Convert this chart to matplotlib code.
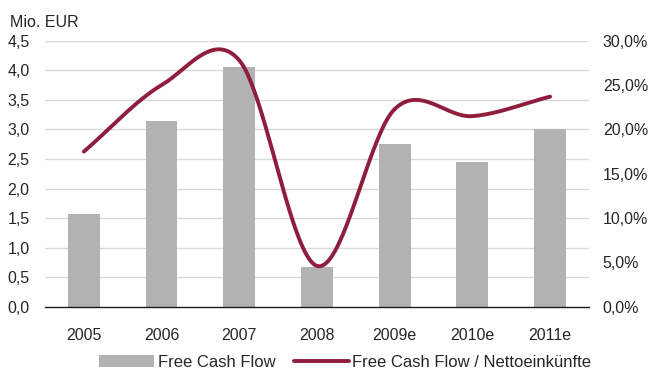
import numpy as np
import matplotlib
matplotlib.use("Agg")
import matplotlib.pyplot as plt

# Daten
jahre = ["2005", "2006", "2007", "2008", "2009e", "2010e", "2011e"]
fcf = [1.57, 3.14, 4.06, 0.68, 2.75, 2.45, 3.01]            # Mio. EUR
fcf_quote = [17.5, 25.0, 27.8, 4.6, 22.3, 21.5, 23.7]      # % der Nettoeinkuenfte

y_ticks = [0.0, 0.5, 1.0, 1.5, 2.0, 2.5, 3.0, 3.5, 4.0, 4.5]
y2_ticks = [0, 5, 10, 15, 20, 25, 30]

plt.rcParams['font.family'] = ['Liberation Sans', 'DejaVu Sans']
text_col = "#262626"
bar_col = "#b2b2b2"
line_col = "#8f1d3d"
fs = 11.5


def catmull_rom(x, y, n=40):
    # glatte Linie wie in Excel (Catmull-Rom-Spline durch die Punkte)
    x = np.asarray(x, float)
    y = np.asarray(y, float)
    px = np.concatenate([[2 * x[0] - x[1]], x, [2 * x[-1] - x[-2]]])
    py = np.concatenate([[2 * y[0] - y[1]], y, [2 * y[-1] - y[-2]]])
    xs, ys = [], []
    t = np.linspace(0, 1, n)
    for i in range(1, len(px) - 2):
        for p, out in ((px, xs), (py, ys)):
            p0, p1, p2, p3 = p[i - 1], p[i], p[i + 1], p[i + 2]
            out.extend(0.5 * ((2 * p1) + (-p0 + p2) * t
                              + (2 * p0 - 5 * p1 + 4 * p2 - p3) * t ** 2
                              + (-p0 + 3 * p1 - 3 * p2 + p3) * t ** 3))
    return np.array(xs), np.array(ys)


fig = plt.figure(figsize=(6.55, 3.71), dpi=100)
ax = fig.add_axes([0.0687, 0.1733, 0.8305, 0.7167])
x = np.arange(len(jahre))

# Gitter
for v in y_ticks[1:]:
    ax.axhline(v, color="#d9d9d9", lw=1.0, zorder=0)

ax.bar(x, fcf, width=0.41, color=bar_col, zorder=2, label="Free Cash Flow")
ax.set_ylim(0, 4.5)
ax.set_xlim(-0.5, len(jahre) - 0.5)
ax.set_yticks(y_ticks)
ax.set_yticklabels([f"{v:.1f}".replace(".", ",") for v in y_ticks])
ax.set_xticks(x)
ax.set_xticklabels(jahre)

for s in ["top", "right", "left"]:
    ax.spines[s].set_visible(False)
ax.spines["bottom"].set_color("#1a1a1a")
ax.spines["bottom"].set_linewidth(1.0)
ax.tick_params(axis="both", length=0, labelsize=fs, colors=text_col)
ax.tick_params(axis="x", pad=15)
ax.tick_params(axis="y", pad=11)

ax2 = ax.twinx()
sx, sy = catmull_rom(x, fcf_quote)
ax2.plot(sx, sy, color=line_col, lw=2.8, solid_capstyle="round", zorder=3,
         label="Free Cash Flow / Nettoeinkünfte")
ax2.set_ylim(0, 30)
ax2.set_yticks(y2_ticks)
ax2.set_yticklabels([f"{v:.1f}%".replace(".", ",") for v in y2_ticks])
for s in ["top", "right", "left", "bottom"]:
    ax2.spines[s].set_visible(False)
ax2.tick_params(axis="y", length=0, labelsize=fs, colors=text_col, pad=10)

fig.text(0.015, 0.94, "Mio. EUR", fontsize=fs, color=text_col, va="center")

h1, l1 = ax.get_legend_handles_labels()
h2, l2 = ax2.get_legend_handles_labels()
fig.legend(h1 + h2, l1 + l2, loc="center", bbox_to_anchor=(0.527, 0.024), ncol=2,
           frameon=False, fontsize=12, handlelength=3.3, handleheight=0.8,
           handletextpad=0.2, columnspacing=1.1, labelcolor=text_col)

fig.savefig("out.png", dpi=100)
